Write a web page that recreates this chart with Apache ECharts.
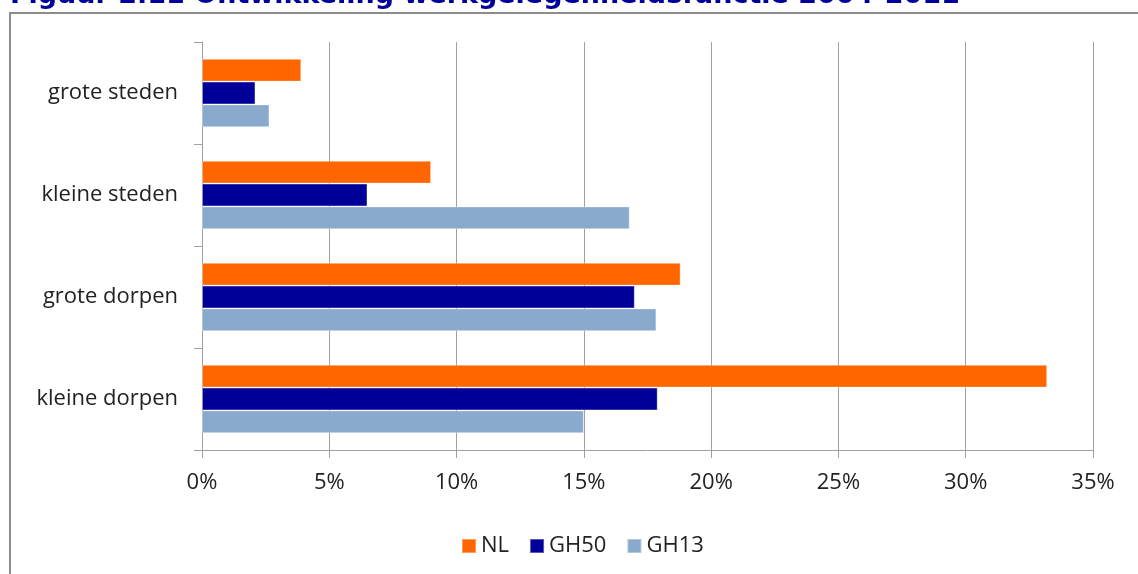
<!DOCTYPE html>
<html>
<head>
<meta charset="utf-8">
<script src="https://cdn.jsdelivr.net/npm/echarts@6/dist/echarts.min.js"></script>
<style>
  html, body { margin: 0; padding: 0; background: #fff; }
  #chart { width: 1138px; height: 574px; }
</style>
</head>
<body>
<div id="chart"></div>
<script>
// categories from top to bottom
const categories = ['grote steden', 'kleine steden', 'grote dorpen', 'kleine dorpen']
const seriesNames = ['NL', 'GH50', 'GH13']
const nlValues = [3.9, 9.0, 18.8, 33.2]
const gh50Values = [2.1, 6.5, 17.0, 17.9]
const gh13Values = [2.65, 16.8, 17.85, 15.0]
const xTicks = { min: 0, max: 35, interval: 5 }
const titleText = 'Figuur 2.11 Ontwikkeling werkgelegenheidsfunctie 2004-2011'

const colors = ['#ff6600', '#000099', '#8aaacd']
const font = '"Open Sans", "Noto Sans", sans-serif'

const chart = echarts.init(document.getElementById('chart'))

function barSeries(name, data, color) {
  return {
    name: name,
    type: 'bar',
    data: data,
    barGap: '0%',
    barCategoryGap: '33%',
    itemStyle: {
      color: color,
      borderColor: 'rgba(255,255,255,0.35)',
      borderWidth: 1
    }
  }
}

chart.setOption({
  backgroundColor: '#ffffff',
  animation: false,
  color: colors,
  graphic: [
    {
      type: 'text',
      left: 10,
      top: -18,
      style: {
        text: titleText,
        fill: '#00009c',
        font: 'bold 27px "DejaVu Sans", Verdana, sans-serif'
      }
    },
    {
      type: 'rect',
      shape: { x: 10, y: 13, width: 1200, height: 600 },
      style: { fill: 'none', stroke: '#8c8c8c', lineWidth: 2 },
      z: -1
    }
  ],
  legend: {
    data: seriesNames,
    left: 456,
    top: 530,
    itemWidth: 14,
    itemHeight: 14,
    itemGap: 20,
    icon: 'rect',
    textStyle: {
      fontFamily: font,
      fontSize: 22,
      color: '#222'
    }
  },
  grid: {
    left: 202,
    right: 45,
    top: 42,
    bottom: 124
  },
  xAxis: {
    type: 'value',
    min: xTicks.min,
    max: xTicks.max,
    interval: xTicks.interval,
    axisLine: { show: true, lineStyle: { color: '#a0a0a0', width: 1 } },
    axisTick: { show: true, length: 8, lineStyle: { color: '#a0a0a0' } },
    axisLabel: {
      formatter: '{value}%',
      margin: 22,
      fontFamily: font,
      fontSize: 22,
      color: '#222'
    },
    splitLine: { show: true, lineStyle: { color: '#a0a0a0', width: 1 } }
  },
  yAxis: {
    type: 'category',
    data: categories,
    inverse: true,
    axisLine: { show: true, lineStyle: { color: '#a0a0a0', width: 1 } },
    axisTick: { show: true, length: 8, lineStyle: { color: '#a0a0a0' } },
    axisLabel: {
      margin: 24,
      fontFamily: font,
      fontSize: 22,
      color: '#222'
    }
  },
  series: [
    barSeries(seriesNames[0], nlValues, colors[0]),
    barSeries(seriesNames[1], gh50Values, colors[1]),
    barSeries(seriesNames[2], gh13Values, colors[2])
  ]
})
</script>
</body>
</html>
